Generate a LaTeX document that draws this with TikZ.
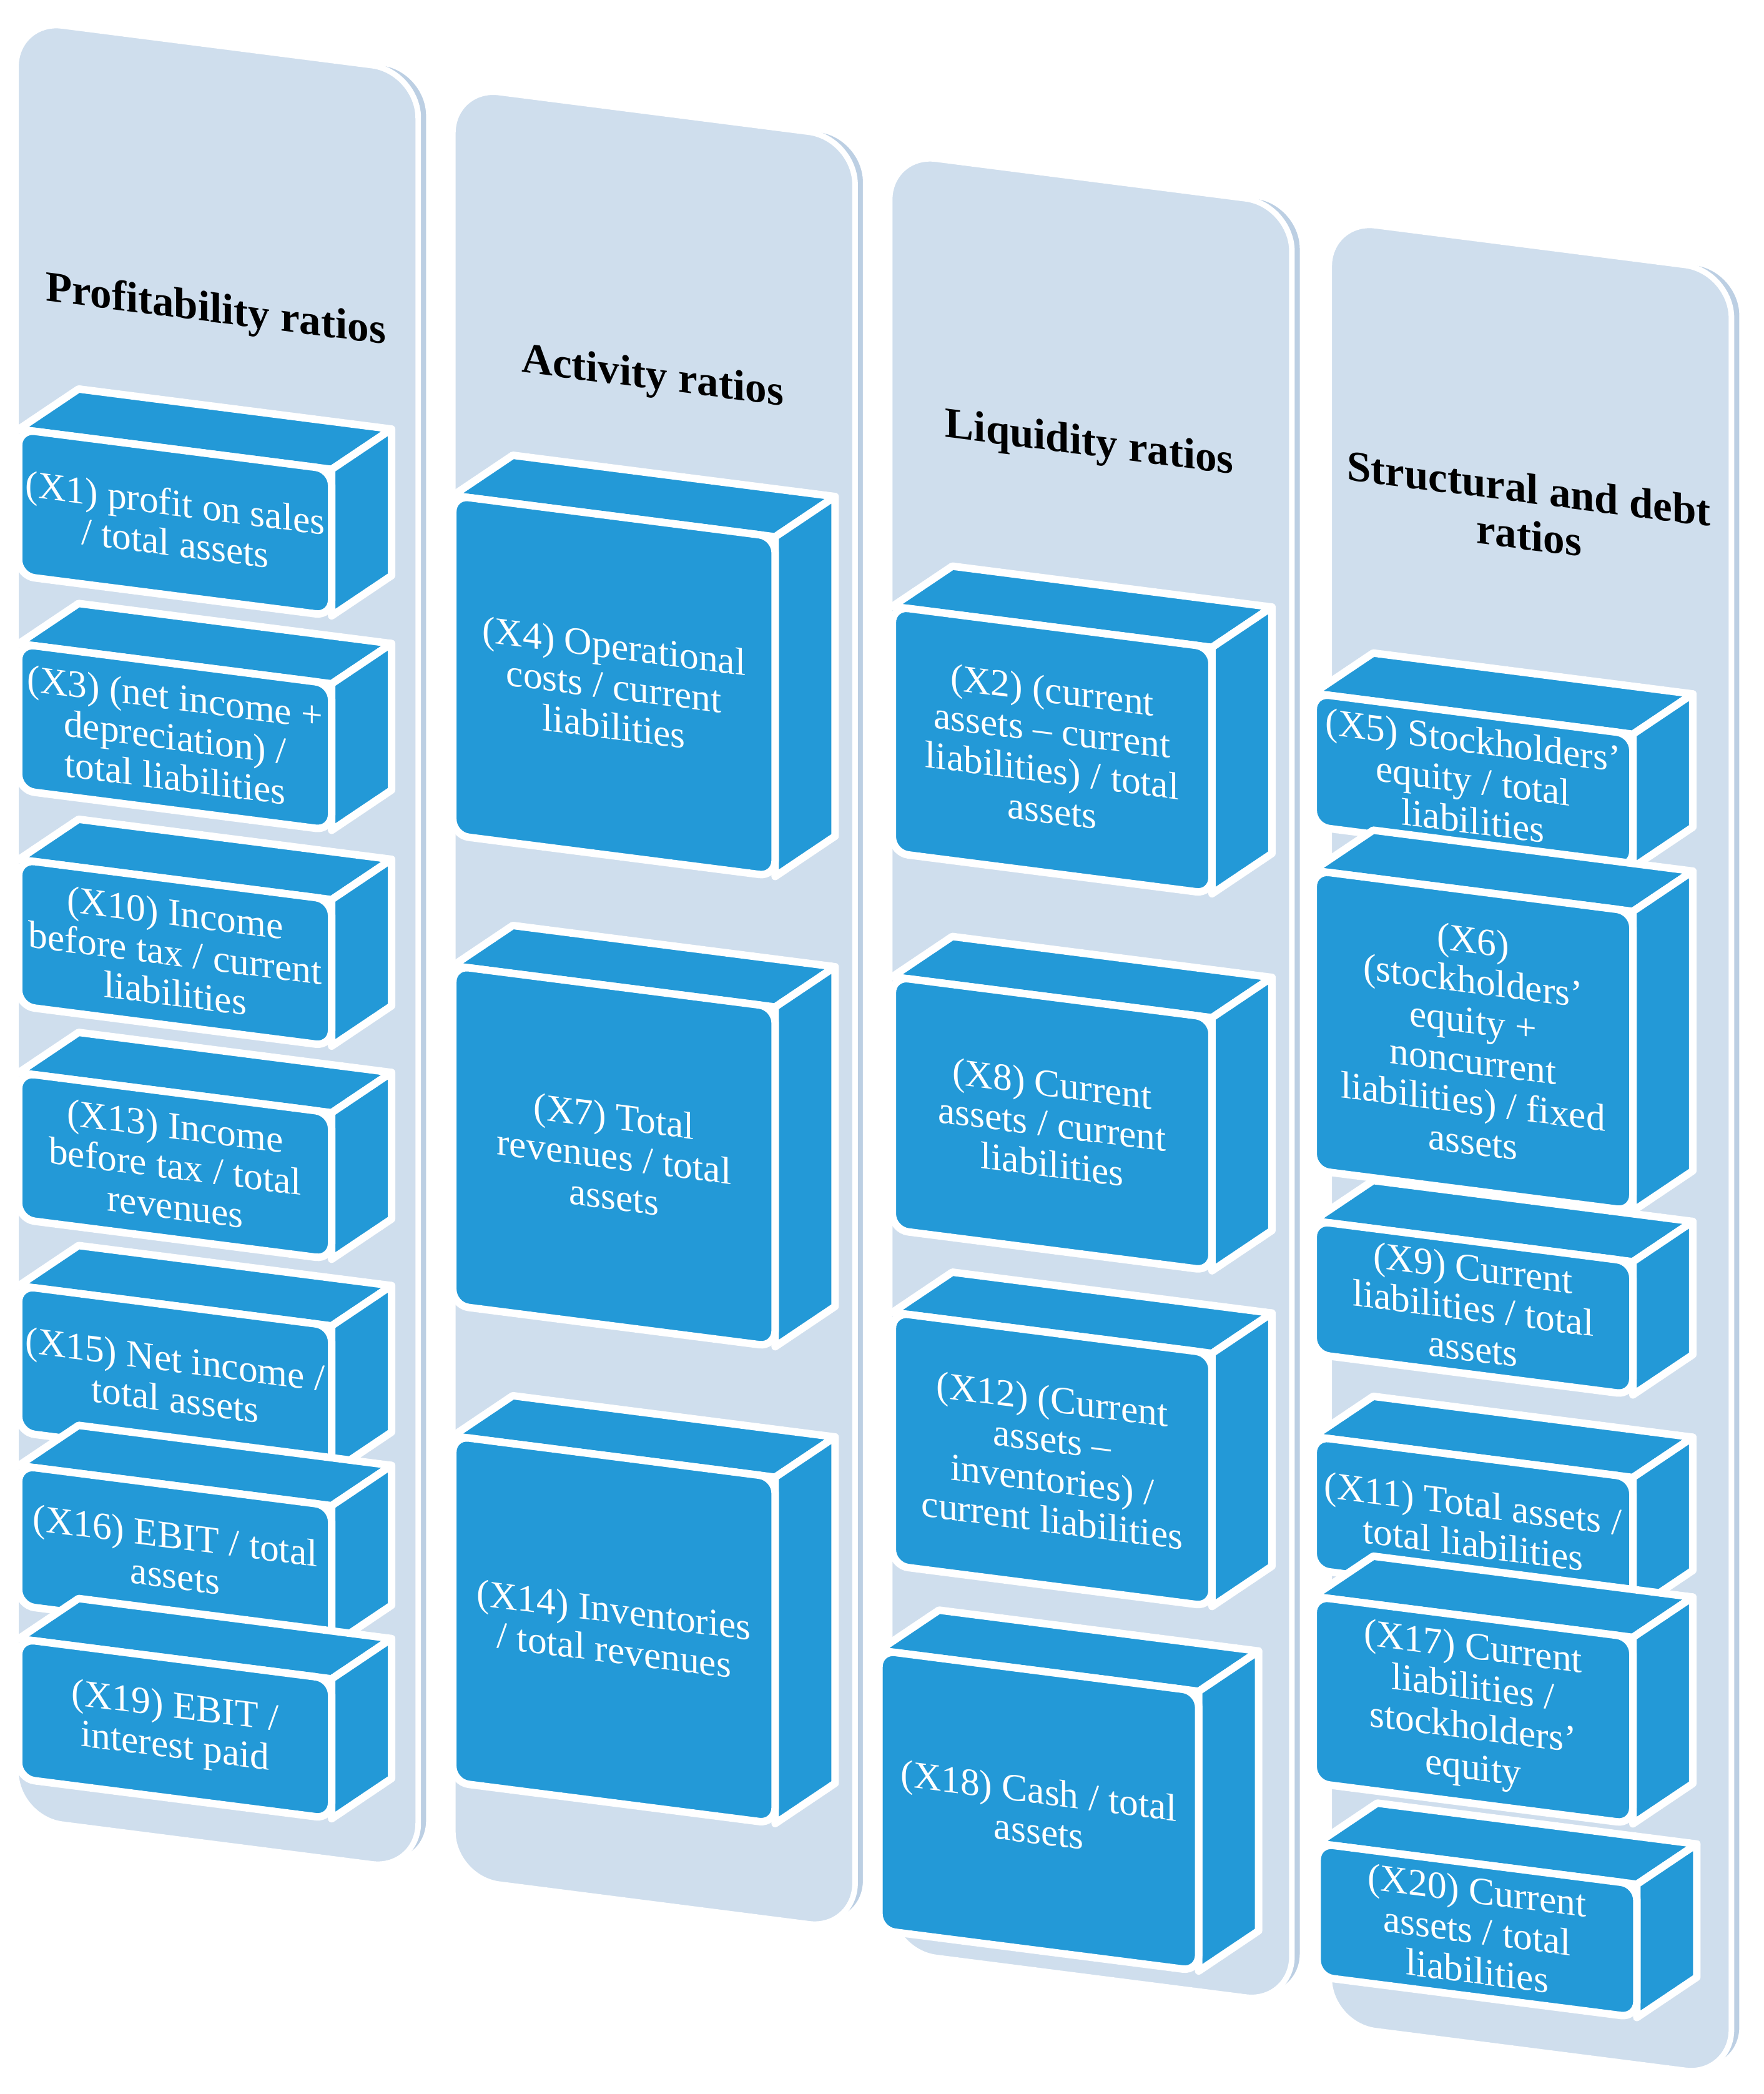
\documentclass[tikz,border=0pt]{standalone}
\usepackage{fontspec}
\setmainfont{Liberation Serif}
\definecolor{panelblue}{HTML}{CFDEED}
\definecolor{paneledge}{HTML}{BCCFE3}
\definecolor{boxblue}{HTML}{2399D7}
\tikzset{
panel/.style ={fill=panelblue, draw=white, line width=1.2pt, rounded corners=0.35cm},
face/.style ={fill=boxblue, draw=white, line width=1.6pt, line join=round},
lbl/.style ={text=white, align=center, transform shape, inner sep=1pt, font=\fontsize{8.2}{8.6}\selectfont},
ttl/.style ={text=black, align=center, transform shape, font=\bfseries\fontsize{9.2}{10}\selectfont}
}
% #1 name, #2 x, #3 y, #4 width, #5 height, #6 text
\newcommand{\ratiobox}[6]{
\draw[face] (#2,#3) -- ++(0.45,0.36) -- ++(#4,0) -- ++(-0.45,-0.36) -- cycle;
\draw[face] (#2+#4,#3) -- ++(0.45,0.36) -- ++(0,-#5) -- ++(-0.45,-0.36) -- cycle;
\draw[face,rounded corners=0.12cm] (#2,#3) rectangle ++(#4,-#5);
\node[lbl] (#1) at (#2+#4/2,#3-#5/2) {#6};
}
\newcommand{\column}[3]{
\draw[panel,fill=paneledge] (0.08,0.03) rectangle ++(3.02,-#1);
\draw[panel] (0,0) rectangle ++(3.02,-#1);
\node[ttl] (#2) at (1.5,-2.0) {#3};
}
\begin{document}
\begin{tikzpicture}
\useasboundingbox (0,0) rectangle (13.24,-15.72);

\begin{scope}[shift={(0.12,-0.15)}, cm={1,-0.128,0,1,(0,0)}]
\column{13.5}{prof}{Profitability ratios}
\ratiobox{x1}{0.02}{-3.07}{2.35}{1.1}{(X1) profit on sales\\ / total assets}
\ratiobox{x3}{0.02}{-4.68}{2.35}{1.1}{(X3) (net income +\\ depreciation) /\\ total liabilities}
\ratiobox{x10}{0.02}{-6.30}{2.35}{1.1}{(X10) Income\\ before tax / current\\ liabilities}
\ratiobox{x13}{0.02}{-7.90}{2.35}{1.1}{(X13) Income\\ before tax / total\\ revenues}
\ratiobox{x15}{0.02}{-9.50}{2.35}{1.1}{(X15) Net income /\\ total assets}
\ratiobox{x16}{0.02}{-10.85}{2.35}{1.05}{(X16) EBIT / total\\ assets}
\ratiobox{x19}{0.02}{-12.15}{2.35}{1.05}{(X19) EBIT /\\ interest paid}
\end{scope}

\begin{scope}[shift={(3.40,-0.65)}, cm={1,-0.128,0,1,(0,0)}]
\column{13.45}{act}{Activity ratios}
\ratiobox{x4}{0}{-3.07}{2.42}{2.55}{(X4) Operational\\ costs / current\\ liabilities}
\ratiobox{x7}{0}{-6.60}{2.42}{2.55}{(X7) Total\\ revenues / total\\ assets}
\ratiobox{x14}{0}{-10.13}{2.42}{2.6}{(X14) Inventories\\ / total revenues}
\end{scope}

\begin{scope}[shift={(6.68,-1.15)}, cm={1,-0.128,0,1,(0,0)}]
\column{13.5}{liq}{Liquidity ratios}
\ratiobox{x2}{0.02}{-3.40}{2.4}{1.85}{(X2) (current\\ assets -- current\\ liabilities) / total\\ assets}
\ratiobox{x8}{0.02}{-6.18}{2.4}{1.9}{(X8) Current\\ assets / current\\ liabilities}
\ratiobox{x12}{0.02}{-8.70}{2.4}{1.9}{(X12) (Current\\ assets --\\ inventories) /\\ current liabilities}
\ratiobox{x18}{-0.08}{-11.25}{2.4}{2.1}{(X18) Cash / total\\ assets}
\end{scope}

\begin{scope}[shift={(9.98,-1.65)}, cm={1,-0.128,0,1,(0,0)}]
\column{13.55}{str}{Structural and debt\\ ratios}
\ratiobox{x5}{-0.12}{-3.57}{2.4}{1.0}{(X5) Stockholders’\\ equity / total\\ liabilities}
\ratiobox{x6}{-0.12}{-4.90}{2.4}{2.25}{(X6)\\ (stockholders’\\ equity +\\ noncurrent\\ liabilities) / fixed\\ assets}
\ratiobox{x9}{-0.12}{-7.53}{2.4}{1.0}{(X9) Current\\ liabilities / total\\ assets}
\ratiobox{x11}{-0.12}{-9.15}{2.4}{1.0}{(X11) Total assets /\\ total liabilities}
\ratiobox{x17}{-0.12}{-10.35}{2.4}{1.4}{(X17) Current\\ liabilities /\\ stockholders’\\ equity}
\ratiobox{x20}{-0.09}{-12.20}{2.4}{1.0}{(X20) Current\\ assets / total\\ liabilities}
\end{scope}
\end{tikzpicture}
\end{document}
